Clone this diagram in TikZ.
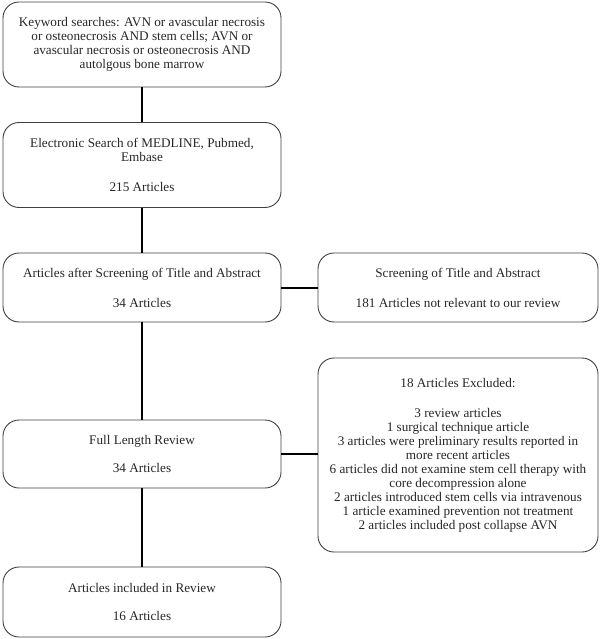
\documentclass[tikz,border=0pt]{standalone}
\usepackage{fontspec}
\setmainfont{Liberation Serif}
\usepackage{tikz}
\usetikzlibrary{calc}
\tikzset{
  flowbox/.style={draw=black!75, line width=0.9pt, rounded corners=16pt, align=center,
    inner sep=0pt, text=black!85, font=\fontsize{13.2}{14}\selectfont},
  link/.style={line width=2pt, black}
}
\begin{document}
\begin{tikzpicture}[x=1pt, y=-1pt]
	\useasboundingbox (0,0) rectangle (600,639);
	\node[flowbox, minimum width=278pt, minimum height=85pt] (kw) at (142,44.5) {Keyword searches: AVN or avascular necrosis\\or osteonecrosis AND stem cells; AVN or\\avascular necrosis or osteonecrosis AND\\autolgous bone marrow};
	\node[flowbox, minimum width=278pt, minimum height=85pt] (search) at (142,165) {Electronic Search of MEDLINE, Pubmed,\\Embase\\[16pt]215 Articles};
	\node[flowbox, minimum width=278pt, minimum height=69pt] (screened) at (142,287.5) {Articles after Screening of Title and Abstract\\[16pt]34 Articles};
	\node[flowbox, minimum width=280pt, minimum height=69pt] (notrel) at (458,287.5) {Screening of Title and Abstract\\[16pt]181 Articles not relevant to our review};
	\node[flowbox, minimum width=278pt, minimum height=68pt] (full) at (142,454) {Full Length Review\\[14pt]34 Articles};
	\node[flowbox, minimum width=280pt, minimum height=194pt] (excl) at (458,455) {18 Articles Excluded:\\[16pt]3 review articles\\1 surgical technique article\\3 articles were preliminary results reported in\\more recent articles\\6 articles did not examine stem cell therapy with\\core decompression alone\\2 articles introduced stem cells via intravenous\\1 article examined prevention not treatment\\2 articles included post collapse AVN};
	\node[flowbox, minimum width=278pt, minimum height=70pt] (incl) at (142,602) {Articles included in Review\\[14pt]16 Articles};
	\draw[link] (kw.south) -- (search.north);
	\draw[link] (search.south) -- (screened.north);
	\draw[link] (screened.south) -- (full.north);
	\draw[link] (screened.east) -- (notrel.west);
	\draw[link] (full.east) -- (full.east -| excl.west);
	\draw[link] (full.south) -- (incl.north);
\end{tikzpicture}
\end{document}
